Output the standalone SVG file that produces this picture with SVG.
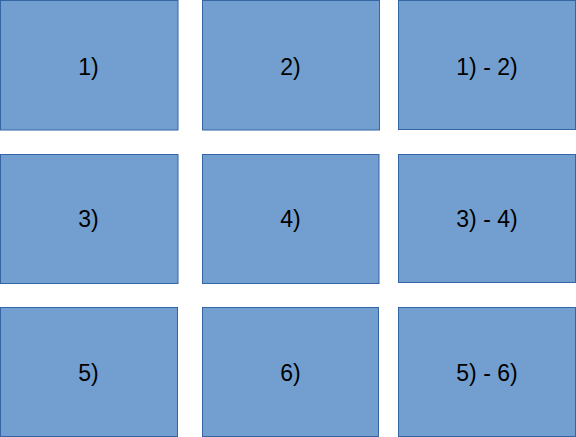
<svg xmlns="http://www.w3.org/2000/svg" width="576" height="437" viewBox="0 0 576 437">
<style>
.b{fill:#729fcf;stroke:#3465a4;stroke-width:1}
.t{font-family:"Liberation Sans",Arial,sans-serif;font-size:23px;fill:#000;text-anchor:middle}
</style>
<rect width="576" height="437" fill="#fff"/>
<g id="n1"><rect class="b" x="0.5" y="0.5" width="177.5" height="129.5"/><text class="t" x="88.5" y="74.5">1)</text></g>
<g id="n2"><rect class="b" x="202.5" y="0.5" width="177" height="129.5"/><text class="t" x="290.5" y="74.5">2)</text></g>
<g id="n3"><rect class="b" x="398.5" y="0.5" width="177" height="129"/><text class="t" x="487" y="74.5">1) - 2)</text></g>
<g id="n4"><rect class="b" x="0.5" y="154.5" width="177.5" height="129"/><text class="t" x="88.5" y="227">3)</text></g>
<g id="n5"><rect class="b" x="202.5" y="154.5" width="176.5" height="129"/><text class="t" x="290.5" y="227">4)</text></g>
<g id="n6"><rect class="b" x="398.5" y="154.5" width="177" height="128"/><text class="t" x="487" y="227">3) - 4)</text></g>
<g id="n7"><rect class="b" x="0.5" y="307.5" width="177" height="129"/><text class="t" x="88.5" y="380.5">5)</text></g>
<g id="n8"><rect class="b" x="202.5" y="307.5" width="176" height="129"/><text class="t" x="290.5" y="380.5">6)</text></g>
<g id="n9"><rect class="b" x="398.5" y="307.5" width="177" height="129"/><text class="t" x="487" y="380.5">5) - 6)</text></g>
<g id="connectors"/>
</svg>
